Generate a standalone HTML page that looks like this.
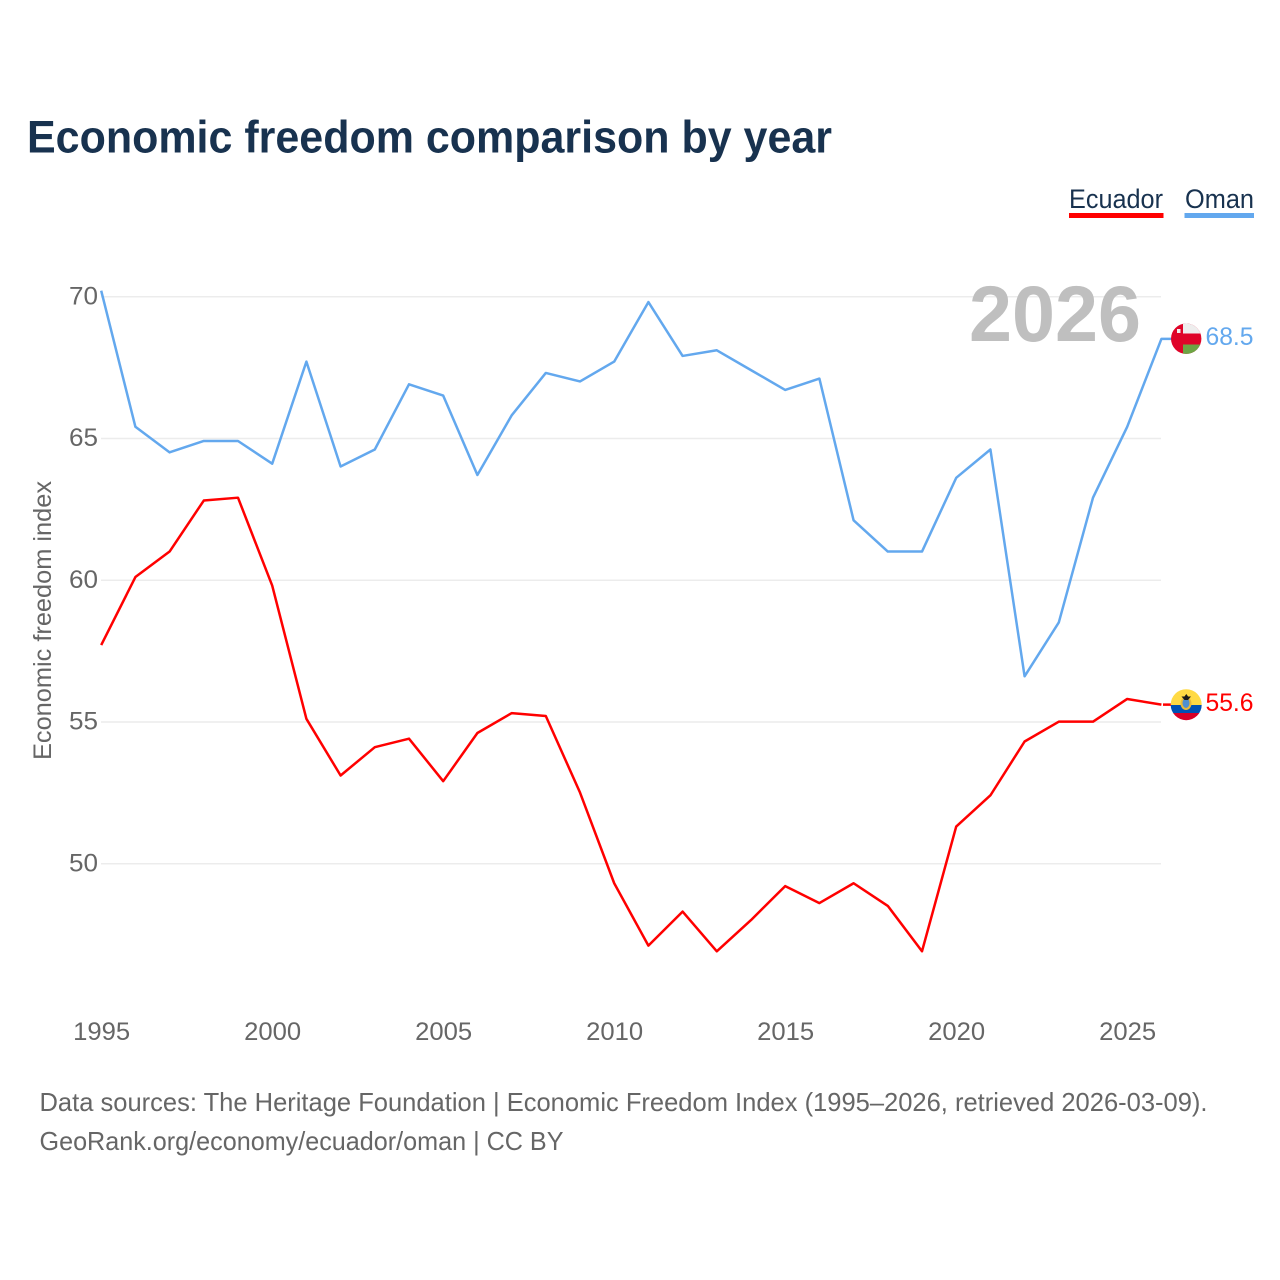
<!DOCTYPE html>
<html lang="en">
<head>
<meta charset="utf-8">
<title>Economic freedom comparison by year</title>
<style>
html,body{margin:0;padding:0;background:#fff;width:1280px;height:1280px;overflow:hidden}
svg{display:block;font-family:"Liberation Sans",sans-serif}
</style>
</head>
<body>
<svg id="chart" width="1280" height="1280" viewBox="0 0 1280 1280" xmlns="http://www.w3.org/2000/svg">
  <rect x="0" y="0" width="1280" height="1280" fill="#fff"/>
  <text x="27" y="152.500" font-size="45" font-weight="700" fill="#18324f" textLength="805" lengthAdjust="spacingAndGlyphs">Economic freedom comparison by year</text>

  <g>
    <text x="1069" y="208" font-size="27" fill="#18324f" textLength="94" lengthAdjust="spacingAndGlyphs">Ecuador</text>
    <rect x="1069" y="213" width="94.500" height="5" fill="#ff0000"/>
  </g>
  <g>
    <text x="1185" y="208" font-size="27" fill="#18324f" textLength="69" lengthAdjust="spacingAndGlyphs">Oman</text>
    <rect x="1184.500" y="213" width="69.500" height="5" fill="#63a8ee"/>
  </g>

  <g id="grid"></g>
  <g id="yticks"></g>
  <g id="xticks"></g>

  <text transform="translate(51,760) rotate(-90)" font-size="25" fill="#666" textLength="279" lengthAdjust="spacingAndGlyphs">Economic freedom index</text>

  <text x="969" y="341" font-size="79" font-weight="700" fill="#bfbfbf" textLength="172" lengthAdjust="spacingAndGlyphs">2026</text>

  <g id="series"></g>

  <defs>
    <clipPath id="oman-clip"><circle cx="1186.200" cy="338.700" r="15.200"/></clipPath>
    <clipPath id="ecuador-clip"><circle cx="1186.200" cy="704.700" r="15.500"/></clipPath>
  </defs>

  <g clip-path="url(#oman-clip)">
    <rect x="1170" y="323" width="32" height="32" fill="#df0429"/>
    <rect x="1183" y="323" width="19" height="10.500" fill="#eeeeee"/>
    <rect x="1183" y="344.500" width="19" height="11" fill="#6da544"/>
    <rect x="1177" y="329" width="3.500" height="4" fill="#eeeeee"/>
  </g>
  <g clip-path="url(#ecuador-clip)">
    <rect x="1170" y="689" width="33" height="16" fill="#ffda44"/>
    <rect x="1170" y="705" width="33" height="8" fill="#0052b4"/>
    <rect x="1170" y="713" width="33" height="8" fill="#d80027"/>
    <ellipse cx="1186" cy="703.500" rx="5.500" ry="6.500" fill="#e8b93a"/>
    <ellipse cx="1186" cy="703" rx="3.500" ry="5" fill="#4f8fd0"/>
    <path d="M1181.500 696.500h9.500l-3 3.500h-3.500z M1184.500 696.500l1.800 -2.500 1.800 2.500z" fill="#1a1a1a"/>
  </g>

  <text x="1205.500" y="345" font-size="25" fill="#63a8ee" textLength="48" lengthAdjust="spacingAndGlyphs">68.5</text>
  <text x="1205.500" y="711" font-size="25" fill="#ff0000" textLength="48" lengthAdjust="spacingAndGlyphs">55.6</text>

  <text x="39.500" y="1111" font-size="26" fill="#666" textLength="1168" lengthAdjust="spacingAndGlyphs">Data sources: The Heritage Foundation | Economic Freedom Index (1995–2026, retrieved 2026-03-09).</text>
  <text x="39.500" y="1150" font-size="26" fill="#666" textLength="524" lengthAdjust="spacingAndGlyphs">GeoRank.org/economy/ecuador/oman | CC BY</text>
</svg>
<script>
const years = [1995,1996,1997,1998,1999,2000,2001,2002,2003,2004,2005,2006,2007,2008,2009,2010,2011,2012,2013,2014,2015,2016,2017,2018,2019,2020,2021,2022,2023,2024,2025,2026];
const omanValues = [70.2,65.4,64.5,64.9,64.9,64.1,67.7,64.0,64.6,66.9,66.5,63.7,65.8,67.3,67.0,67.7,69.8,67.9,68.1,67.4,66.7,67.1,62.1,61.0,61.0,63.6,64.6,56.6,58.5,62.9,65.4,68.5];
const ecuadorValues = [57.7,60.1,61.0,62.8,62.9,59.8,55.1,53.1,54.1,54.4,52.9,54.6,55.3,55.2,52.5,49.3,47.1,48.3,46.9,48.0,49.2,48.6,49.3,48.5,46.9,51.3,52.4,54.3,55.0,55.0,55.8,55.6];
const yTickValues = [50,55,60,65,70];
const xTickValues = [1995,2000,2005,2010,2015,2020,2025];

const NS = 'http://www.w3.org/2000/svg';
const xScale = function (yr) { return 101.2 + (yr - 1995) * 34.2; };
const yScale = function (v) { return 863.8 - (v - 50) * 28.35; };
const gridEl = document.getElementById('grid');
const yEl = document.getElementById('yticks');
const xEl = document.getElementById('xticks');
const seriesEl = document.getElementById('series');

yTickValues.forEach(function (v) {
  const line = document.createElementNS(NS, 'line');
  
  
  line.setAttribute('x1', 101);
  line.setAttribute('x2', 1161);
  line.setAttribute('y1', yScale(v));
  line.setAttribute('y2', yScale(v));
  line.setAttribute('stroke', '#ececec');
  line.setAttribute('stroke-width', '1.5');
  gridEl.appendChild(line);

  const label = document.createElementNS(NS, 'text');
  
  
  label.setAttribute('x', 69);
  label.setAttribute('y', yScale(v) + 7.5);
  label.setAttribute('font-size', '25');
  label.setAttribute('fill', '#666');
  label.setAttribute('textLength', '29');
  label.setAttribute('lengthAdjust', 'spacingAndGlyphs');
  label.textContent = String(v);
  yEl.appendChild(label);
});

xTickValues.forEach(function (yr) {
  const label = document.createElementNS(NS, 'text');
  
  
  label.setAttribute('x', xScale(yr) - 28);
  label.setAttribute('y', 1040);
  label.setAttribute('font-size', '25');
  label.setAttribute('fill', '#666');
  label.setAttribute('textLength', '57');
  label.setAttribute('lengthAdjust', 'spacingAndGlyphs');
  label.textContent = String(yr);
  xEl.appendChild(label);
});

function buildPath(values, gap) {
  let d = '';
  values.forEach(function (v, i) {
    d += (i === 0 ? 'M' : 'L') + xScale(years[i]).toFixed(2) + ' ' + (yScale(v) - 0.4).toFixed(2);
  });
  const lastY = (yScale(values[values.length - 1]) - 0.4).toFixed(2);
  return d + (gap ? 'M1163 ' : 'L') + (gap ? '' : '1175 ') + (gap ? lastY + 'L1175 ' + lastY : lastY);
}

const omanLine = document.createElementNS(NS, 'path');


omanLine.setAttribute('d', buildPath(omanValues, false));
omanLine.setAttribute('fill', 'none');
omanLine.setAttribute('stroke', '#63a8ee');
omanLine.setAttribute('stroke-width', '2.5');
omanLine.setAttribute('stroke-linejoin', 'round');
seriesEl.appendChild(omanLine);

const ecuadorLine = document.createElementNS(NS, 'path');


ecuadorLine.setAttribute('d', buildPath(ecuadorValues, true));
ecuadorLine.setAttribute('fill', 'none');
ecuadorLine.setAttribute('stroke', '#ff0000');
ecuadorLine.setAttribute('stroke-width', '2.5');
ecuadorLine.setAttribute('stroke-linejoin', 'round');
seriesEl.appendChild(ecuadorLine);
</script>
</body>
</html>
